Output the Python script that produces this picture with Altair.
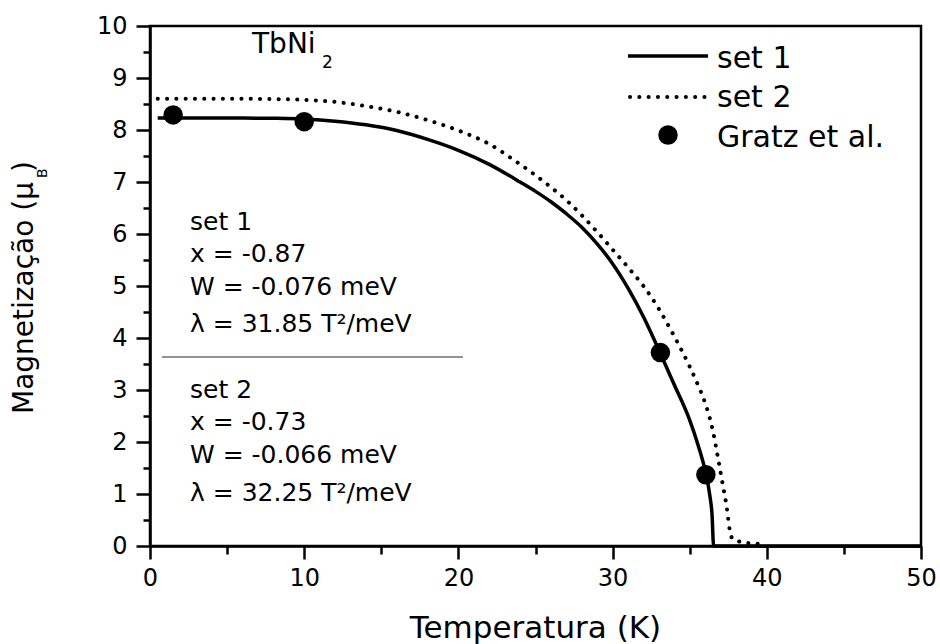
import altair as alt
import pandas as pd

# ---------------- data ----------------
T_set1 = [0.5, 2, 4, 6, 8, 10, 12, 14, 16, 18, 20, 22, 24, 25, 26, 27, 28, 29, 30, 31, 32,
          33, 34, 35, 35.5, 36, 36.3, 36.45, 36.55, 40, 45, 50]
M_set1 = [8.23, 8.23, 8.23, 8.23, 8.225, 8.21, 8.17, 8.1, 7.99, 7.82, 7.61, 7.34, 7.0, 6.82,
          6.62, 6.39, 6.13, 5.81, 5.43, 4.96, 4.41, 3.77, 3.1, 2.42, 1.98, 1.45, 0.98, 0.6,
          0.0, 0.0, 0.0, 0.0]

T_set2 = [0.5, 2, 4, 6, 8, 10, 12, 14, 16, 18, 20, 22, 24, 25, 26, 27, 28, 29, 30, 31, 32,
          33, 34, 35, 35.5, 36, 36.5, 36.8, 37.1, 37.4, 37.6, 37.8, 38.5, 39.5]
M_set2 = [8.6, 8.6, 8.6, 8.6, 8.595, 8.58, 8.54, 8.46, 8.35, 8.19, 7.99, 7.73, 7.34, 7.13,
          6.9, 6.65, 6.36, 6.04, 5.7, 5.36, 5.0, 4.56, 4.03, 3.45, 3.12, 2.75, 2.22, 1.75,
          1.25, 0.75, 0.3, 0.13, 0.07, 0.04]

T_gratz = [1.5, 10.0, 33.1, 36.05]
M_gratz = [8.29, 8.16, 3.72, 1.37]

x_major = [0, 10, 20, 30, 40, 50]
x_minor = [5, 15, 25, 35, 45]
y_major = [0, 1, 2, 3, 4, 5, 6, 7, 8, 9, 10]
y_minor = [0.5, 1.5, 2.5, 3.5, 4.5, 5.5, 6.5, 7.5, 8.5, 9.5]

x_title = "Temperatura (K)"
y_title_main = "Magnetização (μ"
y_title_sub = "B"
y_title_end = ")"
compound = "TbNi"
compound_sub = "2"
legend_labels = ["set 1", "set 2", "Gratz et al."]
notes = ["set 1", "x = -0.87", "W = -0.076 meV", "λ = 31.85 T²/meV",
         "set 2", "x = -0.73", "W = -0.066 meV", "λ = 32.25 T²/meV"]

FONT = "DejaVu Sans"

df1 = pd.DataFrame({"T": T_set1, "M": M_set1})
df2 = pd.DataFrame({"T": T_set2, "M": M_set2})
dfg = pd.DataFrame({"T": T_gratz, "M": M_gratz})

xscale = alt.Scale(domain=[0, 50], nice=False, zero=False)
yscale = alt.Scale(domain=[0, 10], nice=False, zero=False)

x_major_axis = alt.Axis(values=x_major, orient="bottom", tickSize=13, tickWidth=2.5,
                        tickColor="black", domainColor="black", domainWidth=2.5,
                        labelFont=FONT, labelFontSize=24, labelColor="black",
                        labelPadding=7, labelFlush=False, title=None, grid=False,
                        format="d")
x_minor_axis = alt.Axis(values=x_minor, orient="bottom", tickSize=8, tickWidth=2.5,
                        tickColor="black", domain=False, labels=False, title=None,
                        grid=False)
y_major_axis = alt.Axis(values=y_major, orient="left", tickSize=14, tickWidth=2.5,
                        tickColor="black", domainColor="black", domainWidth=2.5,
                        labelFont=FONT, labelFontSize=24, labelColor="black",
                        labelPadding=9, labelFlush=False, title=None, grid=False,
                        format="d")
y_minor_axis = alt.Axis(values=y_minor, orient="left", tickSize=7, tickWidth=2.5,
                        tickColor="black", domain=False, labels=False, title=None,
                        grid=False)

solid = alt.Chart(df1).mark_line(color="black", strokeWidth=3.5, interpolate="monotone").encode(
    x=alt.X("T:Q", scale=xscale, axis=x_major_axis),
    y=alt.Y("M:Q", scale=yscale, axis=y_major_axis),
)

dotted = alt.Chart(df2).mark_line(color="black", strokeWidth=4, strokeDash=[0.1, 9.2],
                                  strokeCap="round", interpolate="monotone").encode(
    x=alt.X("T:Q", scale=xscale, axis=x_minor_axis),
    y=alt.Y("M:Q", scale=yscale, axis=y_minor_axis),
)

points = alt.Chart(dfg).mark_circle(color="black", size=380, opacity=1).encode(
    x=alt.X("T:Q", scale=xscale, axis=None),
    y=alt.Y("M:Q", scale=yscale, axis=None),
)

one = pd.DataFrame({"k": [0]})


def label(text, x, y, size, align="left", angle=0, baseline="alphabetic"):
    return alt.Chart(one).mark_text(text=text, font=FONT, fontSize=size, color="black",
                                    align=align, baseline=baseline, angle=angle).encode(
        x=alt.value(x), y=alt.value(y))


layers = [solid, dotted, points]

# axis titles
layers.append(label(x_title, 385.5, 612, 31, align="center"))
layers.append(label(y_title_main, -117, 156, 28, align="right", angle=270))
layers.append(label(y_title_sub, -103, 152, 14, align="left", angle=270))
layers.append(label(y_title_end, -117, 146, 28, align="left", angle=270))

# compound name
layers.append(label(compound, 102, 27, 28))
layers.append(label(compound_sub, 172, 42, 17))

# parameter notes
note_y = [204, 236, 269, 306, 372, 404, 437, 475]
for txt, yy in zip(notes, note_y):
    layers.append(label(txt, 40, yy, 25))

separator = alt.Chart(one).mark_rule(color="#707070", strokeWidth=1.5).encode(
    x=alt.value(12), x2=alt.value(313), y=alt.value(331))
layers.append(separator)

# legend
leg_solid = alt.Chart(one).mark_rule(color="black", strokeWidth=3.5).encode(
    x=alt.value(478), x2=alt.value(558), y=alt.value(30))
leg_dot = alt.Chart(one).mark_rule(color="black", strokeWidth=4, strokeDash=[0.1, 9.2],
                                   strokeCap="round").encode(
    x=alt.value(480), x2=alt.value(558), y=alt.value(71))
leg_pt = alt.Chart(one).mark_circle(color="black", size=380, opacity=1).encode(
    x=alt.value(518), y=alt.value(109))
layers += [leg_solid, leg_dot, leg_pt]
for txt, yy in zip(legend_labels, [42, 81, 121]):
    layers.append(label(txt, 567, yy, 30))

chart = alt.layer(*layers).resolve_axis(x="independent", y="independent").properties(
    width=771, height=520,
    padding={"left": 150, "top": 26, "right": 19, "bottom": 98},
    autosize=alt.AutoSizeParams(type="none"),
    background="white",
).configure_view(stroke="black", strokeWidth=2.5)

chart.save("out.html", embed_options={"renderer": "svg", "actions": False})
